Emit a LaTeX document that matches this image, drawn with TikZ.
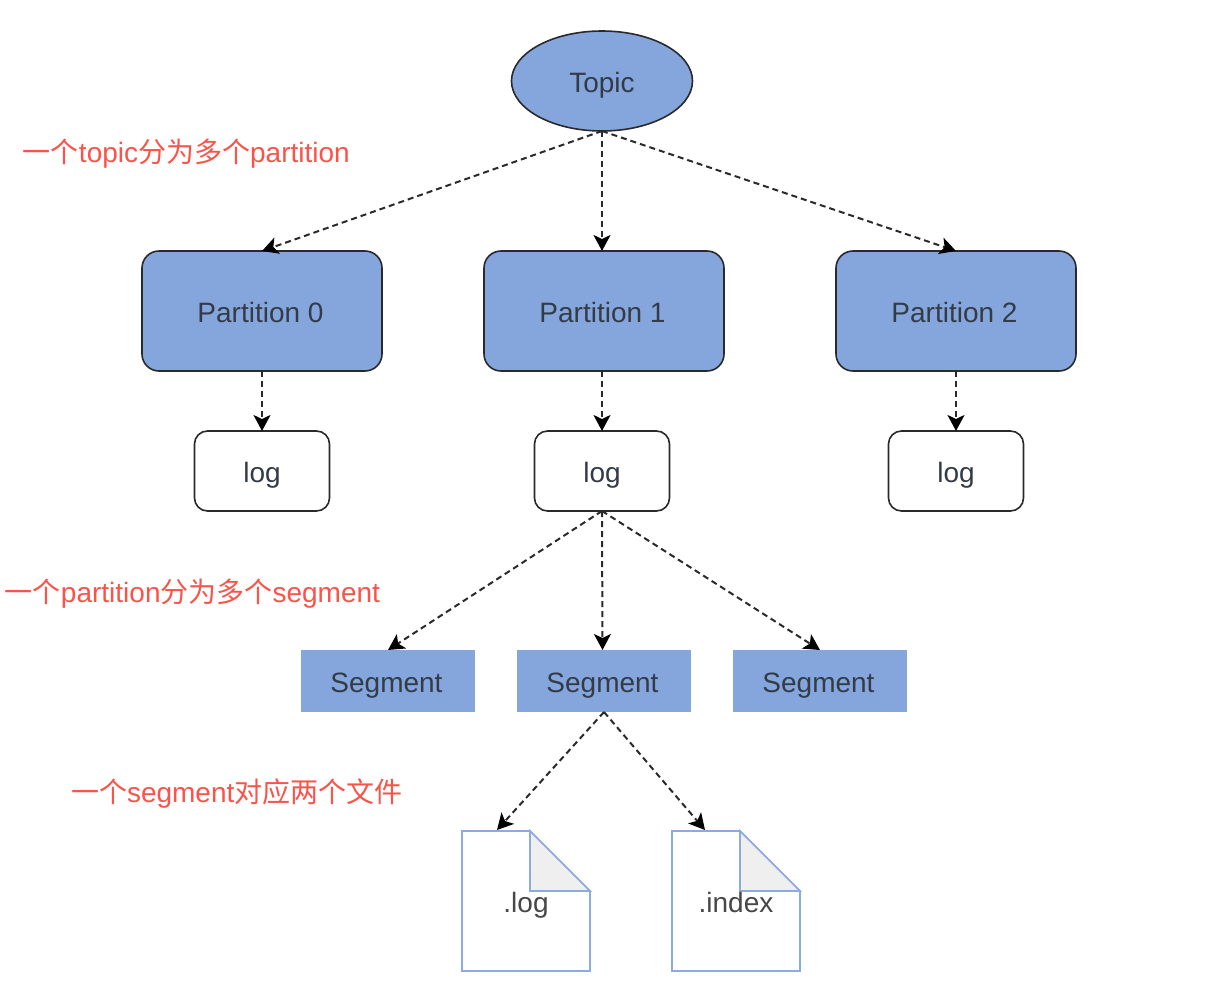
\documentclass[tikz,border=0pt]{standalone}
\usepackage{fontspec}
\setmainfont{Liberation Sans}
\newfontfamily\cjk{Noto Sans CJK SC}
\usetikzlibrary{arrows.meta,shapes.geometric}
\definecolor{bluefill}{HTML}{85A6DC}
\definecolor{txtgray}{HTML}{333B47}
\definecolor{redtxt}{HTML}{F9534A}
\definecolor{foldgray}{HTML}{EFEFEF}
\definecolor{edgeblue}{HTML}{8DABE0}
\definecolor{linedark}{HTML}{2A2A2A}
\tikzset{
  x=1pt,y=-1pt,
  base/.style={font=\fontsize{28}{30}\selectfont,text=txtgray,inner sep=0pt,outer sep=0pt,text height=22pt,text depth=0pt},
  nudged/.style={execute at end node={\kern3pt}},
  topicnode/.style={base,ellipse,draw=linedark,line width=1.6pt,fill=bluefill,minimum width=181pt,minimum height=100pt},
  partnode/.style={base,nudged,rectangle,rounded corners=17pt,draw=linedark,line width=1.6pt,fill=bluefill,minimum width=240pt,minimum height=120pt},
  lognode/.style={base,rectangle,rounded corners=13pt,draw=linedark,line width=1.6pt,fill=white,minimum width=135pt,minimum height=80pt},
  segnode/.style={base,nudged,rectangle,fill=bluefill,minimum width=174pt,minimum height=62pt},
  filenode/.style={base,rectangle,minimum width=128pt,minimum height=140pt},
  filetext/.style={base,text=black!72},
  fileline/.style={draw=edgeblue,line width=1.6pt,line join=miter},
  foldface/.style={fill=foldgray,draw=edgeblue,line width=1.6pt},
  note/.style={font=\fontsize{28}{30}\selectfont,text=redtxt,inner sep=0pt,outer sep=0pt,anchor=west},
  link/.style={draw=linedark,line width=2pt,dash pattern=on 6pt off 4pt,-{Stealth[length=16pt,width=17pt,inset=4pt,color=black]}},
}
\begin{document}
\begin{tikzpicture}
\useasboundingbox (0,0) rectangle (1208,988);
\node[topicnode] (topic) at (602,81) {Topic};
\node[partnode] (p0) at (262,311) {Partition 0};
\node[partnode] (p1) at (604,311) {Partition 1};
\node[partnode] (p2) at (956,311) {Partition 2};
\node[lognode] (l0) at (262,471) {log};
\node[lognode] (l1) at (602,471) {log};
\node[lognode] (l2) at (956,471) {log};
\node[segnode] (s0) at (388,681) {Segment};
\node[segnode] (s1) at (604,681) {Segment};
\node[segnode] (s2) at (820,681) {Segment};
\node[filenode] (f0) at (526,901) {};
\node[filenode] (f1) at (736,901) {};
\draw[fileline,fill=white] (f0.north west) -- ++(68,0) -- ++(60,60) -- (f0.south east) -- (f0.south west) -- cycle;
\draw[foldface] (f0.north west) ++(68,0) -- ++(0,60) -- ++(60,0) -- cycle;
\draw[fileline,fill=white] (f1.north west) -- ++(68,0) -- ++(60,60) -- (f1.south east) -- (f1.south west) -- cycle;
\draw[foldface] (f1.north west) ++(68,0) -- ++(0,60) -- ++(60,0) -- cycle;
\node[filetext] (ft0) at (526,901) {.log};
\node[filetext] (ft1) at (736,901) {.index};
\coordinate (c1) at (602,251);
\coordinate (c3) at (602.5,650);
\coordinate (e0) at (497,830);
\coordinate (e1) at (705,830);
\draw[link] (topic.south) -- (p0.north);
\draw[link] (topic.south) -- (c1);
\draw[link] (topic.south) -- (p2.north);
\draw[link] (p0.south) -- (l0.north);
\draw[link] (c1 |- p1.south) -- (l1.north);
\draw[link] (p2.south) -- (l2.north);
\draw[link] (l1.south) -- (s0.north);
\draw[link] (l1.south) -- (c3);
\draw[link] (l1.south) -- (s2.north);
\draw[link] (s1.south) -- (e0);
\draw[link] (s1.south) -- (e1);
\node[note] (n1) at (23,154) {{\cjk 一个}topic{\cjk 分为多个}partition};
\node[note] (n2) at (5,594) {{\cjk 一个}partition{\cjk 分为多个}segment};
\node[note] (n3) at (71,794) {{\cjk 一个}segment{\cjk 对应两个文件}};
\end{tikzpicture}
\end{document}
